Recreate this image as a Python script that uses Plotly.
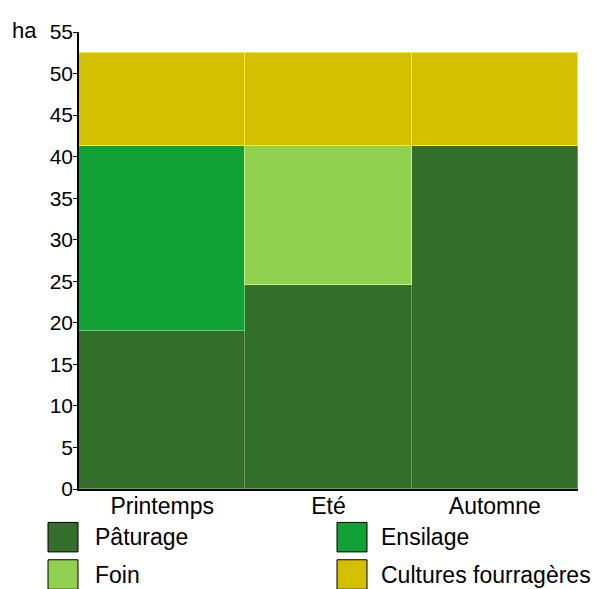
import plotly.graph_objects as go

categories = ["Printemps", "Eté", "Automne"]
series_names = ["Pâturage", "Ensilage", "Foin", "Cultures fourragères"]
paturage = [19.0, 24.6, 41.3]
ensilage = [22.3, 0, 0]
foin = [0, 16.7, 0]
cultures = [11.2, 11.2, 11.2]
y_ticks = list(range(0, 56, 5))

fills = ["#336e2b", "#10a035", "#92d050", "#d4c000"]
outlines = ["#6c9e62", "#60d070", "#c0f088", "#f4ee30"]
values = [paturage, ensilage, foin, cultures]

fig = go.Figure()
for name, vals, fc, lc in zip(series_names, values, fills, outlines):
    fig.add_trace(go.Bar(x=categories, y=vals, name=name,
                         marker=dict(color=fc, line=dict(color=lc, width=1)),
                         showlegend=False))

# page has an 8px body margin; work in target page pixels and offset
OFF = 8
W, H = 604 - OFF, 589 - OFF
L, R, T, B = 79 - OFF, 26, 24 - OFF, 100
pw, ph = W - L - R, H - T - B

def px(x):
    return (x - OFF - L) / pw

def py(y):
    return (H - B - (y - OFF)) / ph

FAM = "Liberation Sans, Arial, sans-serif"
xfont = dict(family=FAM, size=23, color="black")
yfont = dict(family=FAM, size=21, color="black")
lfont = dict(family=FAM, size=23, color="black")

fig.update_layout(
    width=W, height=H,
    margin=dict(l=L, r=R, t=T, b=B),
    barmode="stack", bargap=0,
    plot_bgcolor="white", paper_bgcolor="white",
    font=xfont,
    xaxis=dict(showline=True, linecolor="black", linewidth=1.5, ticks="",
               showgrid=False, tickfont=xfont, ticklabelstandoff=-4),
    yaxis=dict(range=[0, 55], tickvals=y_ticks, showline=True, linecolor="black",
               linewidth=1.5, ticks="outside", ticklen=4, tickcolor="black",
               showgrid=False, zeroline=False, tickfont=yfont, ticklabelstandoff=-4),
)

fig.add_annotation(text="ha", xref="paper", yref="paper", x=px(10), y=py(22),
                   xanchor="left", yanchor="middle", showarrow=False,
                   font=dict(family=FAM, size=22, color="black"))

# manual legend
pos = [(48, 523, 93, 538), (337, 523, 379, 538), (48, 561, 93, 576), (337, 561, 379, 576)]
for name, fc, (sx, sy, tx, ty) in zip(series_names, fills, pos):
    fig.add_shape(type="rect", xref="paper", yref="paper",
                  x0=px(sx), x1=px(sx + 30), y0=py(sy), y1=py(sy + 30),
                  fillcolor=fc, line=dict(color="black", width=1))
    fig.add_annotation(text=name, xref="paper", yref="paper", x=px(tx), y=py(ty),
                       xanchor="left", yanchor="middle", showarrow=False, font=lfont)

fig.write_html("out.html")
